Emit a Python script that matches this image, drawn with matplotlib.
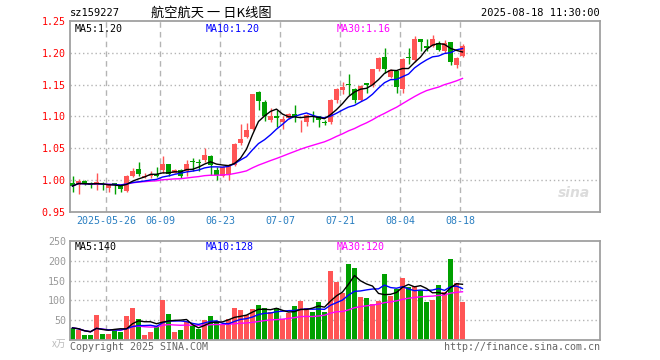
import matplotlib
matplotlib.use("Agg")
import matplotlib.pyplot as plt
import numpy as np
import pandas as pd

# ---------------- data ----------------
opens = [0.995, 0.992, 0.999, 0.994, 0.993, 0.990, 0.988, 0.996, 0.991, 0.984,
         1.007, 1.018, 1.005, 1.006, 1.010, 1.016, 1.026, 1.012, 1.016, 1.015,
         1.030, 1.028, 1.032, 1.038, 1.016, 1.007, 1.008, 1.024, 1.059, 1.068,
         1.081, 1.138, 1.122, 1.095, 1.101, 1.091, 1.097, 1.104, 1.094, 1.092,
         1.101, 1.101, 1.092, 1.092, 1.126, 1.142, 1.151, 1.143, 1.126, 1.152,
         1.149, 1.174, 1.194, 1.162, 1.172, 1.143, 1.194, 1.189, 1.221, 1.210,
         1.210, 1.215, 1.203, 1.216, 1.180, 1.195]
highs = [1.007, 1.002, 1.000, 0.997, 1.012, 0.997, 0.993, 0.996, 0.993, 1.008,
         1.019, 1.029, 1.012, 1.014, 1.021, 1.038, 1.026, 1.018, 1.017, 1.032,
         1.035, 1.033, 1.050, 1.039, 1.021, 1.022, 1.026, 1.058, 1.089, 1.090,
         1.136, 1.140, 1.126, 1.114, 1.110, 1.100, 1.105, 1.118, 1.095, 1.104,
         1.109, 1.101, 1.095, 1.127, 1.144, 1.154, 1.167, 1.144, 1.149, 1.152,
         1.175, 1.194, 1.208, 1.174, 1.173, 1.191, 1.208, 1.226, 1.222, 1.221,
         1.227, 1.219, 1.220, 1.217, 1.193, 1.213]
lows = [0.982, 0.978, 0.993, 0.988, 0.985, 0.985, 0.981, 0.978, 0.982, 0.981,
        1.005, 1.006, 1.004, 1.003, 1.005, 1.012, 1.007, 1.011, 1.004, 1.007,
        1.014, 1.014, 1.028, 1.008, 1.001, 1.005, 1.000, 1.022, 1.055, 1.066,
        1.079, 1.110, 1.093, 1.092, 1.083, 1.080, 1.096, 1.092, 1.076, 1.085,
        1.092, 1.083, 1.086, 1.089, 1.121, 1.135, 1.134, 1.121, 1.125, 1.137,
        1.147, 1.172, 1.168, 1.160, 1.137, 1.137, 1.183, 1.186, 1.202, 1.202,
        1.209, 1.203, 1.199, 1.181, 1.176, 1.193]
closes = [0.991, 0.999, 0.994, 0.993, 0.997, 0.989, 0.992, 0.992, 0.987, 1.007,
          1.015, 1.010, 1.007, 1.008, 1.007, 1.026, 1.010, 1.016, 1.006, 1.026,
          1.028, 1.027, 1.040, 1.024, 1.008, 1.021, 1.022, 1.057, 1.065, 1.079,
          1.135, 1.125, 1.100, 1.101, 1.097, 1.096, 1.104, 1.099, 1.095, 1.103,
          1.100, 1.095, 1.090, 1.126, 1.143, 1.147, 1.150, 1.126, 1.148, 1.150,
          1.174, 1.191, 1.175, 1.173, 1.147, 1.190, 1.191, 1.222, 1.216, 1.208,
          1.222, 1.204, 1.215, 1.185, 1.192, 1.210]
volumes = [31, 27, 14, 14, 64, 17, 17, 25, 22, 62,
           82, 53, 14, 22, 37, 102, 67, 22, 25, 45,
           37, 28, 51, 62, 49, 41, 54, 82, 75, 64,
           79, 89, 82, 70, 82, 53, 68, 87, 98, 81,
           70, 95, 72, 174, 147, 118, 192, 182, 108, 107,
           92, 99, 167, 112, 130, 157, 135, 137, 127, 95,
           102, 138, 120, 205, 145, 95]
tick_labels = ["2025-05-26", "06-09", "06-23", "07-07", "07-21", "08-04", "08-18"]
tick_index = [6, 15, 25, 35, 45, 55, 65]
price_ticks = [0.95, 1.00, 1.05, 1.10, 1.15, 1.20, 1.25]
vol_ticks = [50, 100, 150, 200, 250]
price_ma_labels = ["MA5:1.20", "MA10:1.20", "MA30:1.16"]
vol_ma_labels = ["MA5:140", "MA10:128", "MA30:120"]
symbol = "sz159227"
title = "航空航天 一 日K线图"
timestamp = "2025-08-18 11:30:00"

# ---------------- style ----------------
RED = "#ff5555"
GREEN = "#00a000"
GRID = "#b4b4b4"
FRAME = "#a0a0a0"
MONO = "DejaVu Sans Mono"
CJK = ["Noto Sans CJK SC", "DejaVu Sans"]

o = np.array(opens); h = np.array(highs); l = np.array(lows); c = np.array(closes)
v = np.array(volumes, dtype=float)
x = np.arange(len(c))
up = c >= o
colors = np.where(up, RED, GREEN)

cs = pd.Series(c)
vs = pd.Series(v)
ma = {n: cs.rolling(n, min_periods=1).mean().values for n in (5, 10, 30)}
vma = {n: vs.rolling(n, min_periods=1).mean().values for n in (5, 10, 30)}

W, H = 660, 360
fig = plt.figure(figsize=(W / 100, H / 100), dpi=100)
fig.patch.set_facecolor("white")

L, R = 70, 600
def axes_px(top, bottom):
    return fig.add_axes([L / W, 1 - bottom / H, (R - L) / W, (bottom - top) / H])

axp = axes_px(20.8, 212.2)
axv = axes_px(240.7, 340.3)

px_per = 6.0
x0 = (L - 72.5) / px_per
x1 = (R - 72.5) / px_per
grid_x = [t - 0.38 for t in tick_index]

for ax in (axp, axv):
    ax.set_xlim(x0, x1)
    for s in ax.spines.values():
        s.set_color(FRAME)
        s.set_linewidth(1.3)
    for gx in grid_x:
        ax.axvline(gx, color=GRID, lw=1.0, ls=(0, (4, 3)), zorder=0)
    ax.tick_params(length=0)

# ---- price panel ----
axp.set_ylim(0.95, 1.25)
for py in price_ticks[1:-1]:
    axp.axhline(py, color=GRID, lw=1.0, ls=(0, (1, 2)), zorder=0)
axp.vlines(x, l, h, colors=colors, lw=1.0, zorder=2)
body = np.maximum(np.abs(c - o), 0.0006)
axp.bar(x, body, bottom=np.minimum(o, c), width=0.82, color=colors, zorder=3, linewidth=0)
axp.plot(x, ma[30], color="#ff00ff", lw=1.0, zorder=4)
axp.plot(x, ma[10], color="#0000ff", lw=1.0, zorder=4)
axp.plot(x, ma[5], color="#000000", lw=1.0, zorder=4)

axp.set_yticks(price_ticks)
axp.set_yticklabels([f"{t:.2f}" for t in price_ticks], color="#ff0000",
                    fontsize=7.2, family=MONO)
axp.tick_params(axis="y", pad=3)
axp.set_xticks(grid_x)
axp.set_xticklabels(tick_labels, color="#2a7fc1", fontsize=7.2, family=MONO)
axp.tick_params(axis="x", pad=3)

def ma_labels(ax, texts):
    xs = [(75 - L) / (R - L), (206 - L) / (R - L), (337 - L) / (R - L)]
    cols = ["#000000", "#0000ff", "#ff00ff"]
    for xx, t, col in zip(xs, texts, cols):
        ax.text(xx, 0.985, t, transform=ax.transAxes, ha="left", va="top",
                color=col, fontsize=7.2, family=MONO, zorder=6)

ma_labels(axp, price_ma_labels)

# ---- volume panel ----
axv.set_ylim(0, 250)
for vy in vol_ticks[:-1]:
    axv.axhline(vy, color=GRID, lw=1.0, ls=(0, (1, 2)), zorder=0)
axv.bar(x, v, width=0.85, color=colors, zorder=2, linewidth=0)
axv.plot(x, vma[30], color="#ff00ff", lw=1.0, zorder=4)
axv.plot(x, vma[10], color="#0000ff", lw=1.0, zorder=4)
axv.plot(x, vma[5], color="#000000", lw=1.0, zorder=4)
axv.set_yticks(vol_ticks)
axv.set_yticklabels([str(t) for t in vol_ticks], color="#999999", fontsize=7.2, family=MONO)
axv.tick_params(axis="y", pad=3)
axv.set_xticks([])
ma_labels(axv, vol_ma_labels)

# ---- texts ----
fig.text(70 / W, 1 - 13 / H, symbol, ha="left", va="center", fontsize=7.5, family=MONO)
fig.text(151 / W, 1 - 13 / H, title, ha="left", va="center", fontsize=9.5, family=CJK)
fig.text(600 / W, 1 - 13 / H, timestamp, ha="right", va="center", fontsize=7.5, family=MONO)
fig.text(66 / W, 1 - 344 / H, "x万", ha="right", va="center", fontsize=7, color="#bbbbbb",
         family=CJK)
fig.text(70 / W, 1 - 347 / H, "Copyright 2025 SINA.COM", ha="left", va="center",
         fontsize=7.2, color="#666666", family=MONO)
fig.text(600 / W, 1 - 347 / H, "http://finance.sina.com.cn", ha="right", va="center",
         fontsize=7.2, color="#666666", family=MONO)
fig.text(574 / W, 1 - 193 / H, "sina", ha="center", va="center", fontsize=10,
         style="italic", weight="bold", color="#dcdcdc")

fig.savefig("out.png", dpi=100, facecolor="white")
